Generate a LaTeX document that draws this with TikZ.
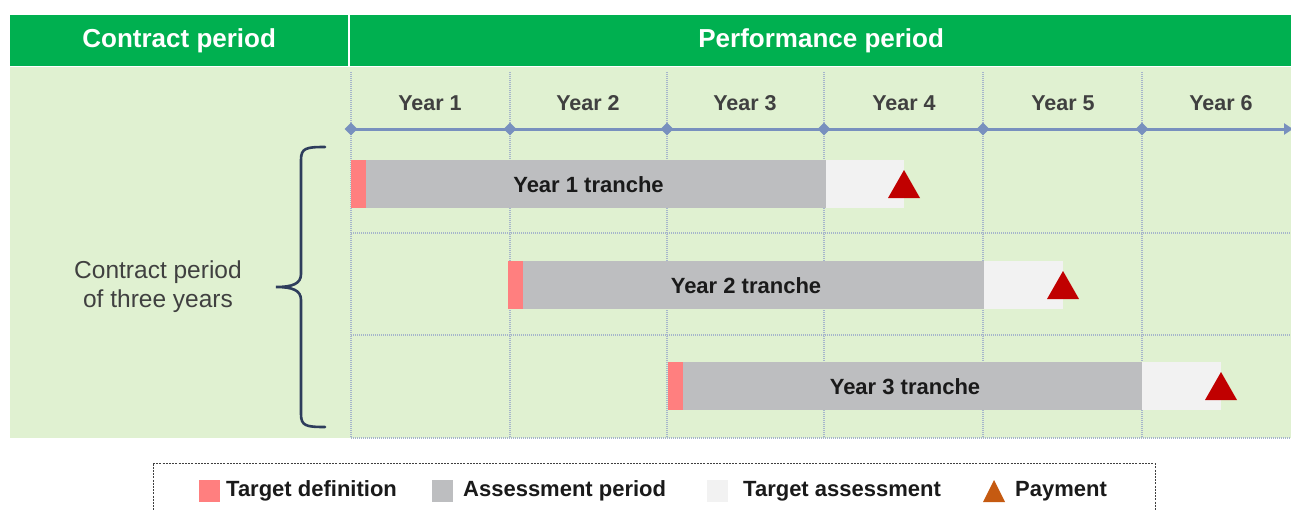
\documentclass[tikz,border=0pt]{standalone}
\usepackage{fontspec}
\setmainfont{Liberation Sans}
\usetikzlibrary{arrows.meta,shapes.geometric}
\definecolor{hdrgreen}{HTML}{00B050}
\definecolor{bggreen}{HTML}{E0F1D1}
\definecolor{gridblue}{HTML}{A6B5CB}
\definecolor{axisblue}{HTML}{7890BE}
\definecolor{tdpink}{HTML}{FF7F7F}
\definecolor{apgray}{HTML}{BDBEC0}
\definecolor{talight}{HTML}{F2F2F2}
\definecolor{payred}{HTML}{C00000}
\definecolor{payorange}{HTML}{C55A11}
\definecolor{bracecol}{HTML}{2E3D5C}
\definecolor{txtgray}{HTML}{404040}
\definecolor{txtdark}{HTML}{1A1A1A}
\begin{document}
\begin{tikzpicture}[x=1pt,y=-1pt,
  hdr/.style={fill=hdrgreen, text=white, inner sep=0, minimum height=51,
    font=\fontsize{26}{30}\selectfont\bfseries, anchor=north west},
  bgbox/.style={fill=bggreen, inner sep=0, anchor=north west},
  gridline/.style={gridblue, line width=2pt, dash pattern=on 1pt off 1pt},
  axisline/.style={axisblue, line width=3pt},
  dia/.style={diamond, fill=axisblue, inner sep=0, minimum size=13},
  yearlbl/.style={text=txtgray, font=\fontsize{21.5}{26}\selectfont\bfseries},
  barbox/.style={inner sep=0, minimum height=48, anchor=north west},
  tranchelbl/.style={text=txtdark, font=\fontsize{22}{26}\selectfont\bfseries},
  bracestyle/.style={bracecol, line width=2.6pt, line cap=round},
  sidelbl/.style={text=txtgray, align=center, font=\fontsize{24.5}{29}\selectfont},
  legsq/.style={inner sep=0, minimum width=21, minimum height=22},
  legtxt/.style={anchor=west, inner sep=0, text=txtdark, font=\fontsize{22}{26}\selectfont\bfseries},
  legbox/.style={draw=black!75, line width=1pt, dash pattern=on 2pt off 1.2pt}
]
\useasboundingbox (0,0) rectangle (1291,511);
\fill[white] (0,0) rectangle (1291,511);
% header
\node[hdr, minimum width=338] (hc) at (10,15) {Contract period};
\node[hdr, minimum width=942] (hp) at (350,15) {Performance period};
% background
\node[bgbox, minimum width=1281, minimum height=371] (bg) at (10,67) {};
% grid
\foreach \x in {351,510,667,824,983,1142} \draw[gridline] (\x,72) -- (\x,438);
\foreach \y in {233,335,438} \draw[gridline] (351,\y) -- (1291,\y);
% timeline
\coordinate (ts) at (351,129);
\coordinate (te) at (1293,129);
\draw[axisline, -{Triangle[length=9pt,width=11pt]}] (ts) -- (te);
\foreach \x [count=\i] in {351,510,667,824,983,1142} \node[dia] (d\i) at (\x,129) {};
\foreach \x [count=\i] in {430,588,745,904,1063,1221} \node[yearlbl] (y\i) at (\x,103) {Year \i};
% tranches
\foreach \i/\a/\b/\c/\t in {1/351/826/904/160, 2/508/984/1063/261, 3/668/1142/1221/362}{
  \pgfmathsetmacro\gw{\b-\a-15}
  \pgfmathsetmacro\lw{\c-\b}
  \node[barbox, fill=tdpink, minimum width=15] (p\i) at (\a,\t) {};
  \node[barbox, fill=apgray, minimum width=\gw] (g\i) at (\a+15,\t) {};
  \node[barbox, fill=talight, minimum width=\lw] (l\i) at (\b,\t) {};
  \node[tranchelbl] (tl\i) at ({(\a+\b)/2},\t+25) {Year \i{} tranche};
  \fill[payred] (\c-16,\t+38) -- (\c,\t+10) -- (\c+16,\t+38) -- cycle;
}
% brace
\draw[bracestyle] (325,147) .. controls (306,147) and (301,148) .. (301,160)
  -- (301,274) .. controls (301,284) and (292,287) .. (276,287)
  .. controls (292,287) and (301,290) .. (301,300)
  -- (301,414) .. controls (301,426) and (306,427) .. (325,427);
\node[sidelbl] (side) at (158,287) {Contract period\\of three years};
% legend
\draw[legbox] (153,463.5) -- (1155,463.5) -- (1155,515) (153,463.5) -- (153,515);
\node[legsq, fill=tdpink] (lq1) at (209.5,491) {};
\node[legtxt] (lt1) at (226,491) {Target definition};
\node[legsq, fill=apgray] (lq2) at (442.5,491) {};
\node[legtxt] (lt2) at (463,491) {Assessment period};
\node[legsq, fill=talight] (lq3) at (717.5,491) {};
\node[legtxt] (lt3) at (743,491) {Target assessment};
\fill[payorange] (983,502) -- (994,480) -- (1005,502) -- cycle;
\node[legtxt] (lt4) at (1015,491) {Payment};
\end{tikzpicture}
\end{document}
